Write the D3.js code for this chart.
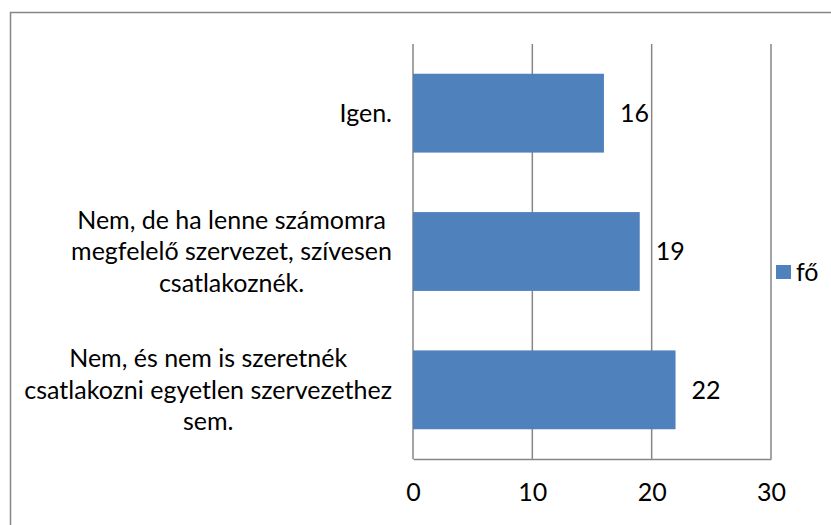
<!DOCTYPE html>
<html>
<head>
<meta charset="utf-8">
<script src="https://cdn.jsdelivr.net/npm/d3@7"></script>
<style>
  body { margin: 0; background: #fff; }
  svg text { font-family: Lato, "Open Sans", sans-serif; fill: #000; }
</style>
</head>
<body>
<svg id="chart"></svg>
<script>
let categories = [
    ['Igen.'],
    ['Nem, de ha lenne számomra', 'megfelelő szervezet, szívesen', 'csatlakoznék.'],
    ['Nem, és nem is szeretnék', 'csatlakozni egyetlen szervezethez', 'sem.']
]
let values = [16, 19, 22]
let ticks = [0, 10, 20, 30]
let seriesName = 'fő'

let width = 831
let height = 525
let fontSize = 25
let gridColor = '#868686'
let barColor = '#4F81BD'

let svg = d3.select('#chart')
    .attr('width', width)
    .attr('height', height)

// outer chart border (right/bottom run off the picture)
svg.append('rect')
    .attr('x', 10.5)
    .attr('y', 12.5)
    .attr('width', 900)
    .attr('height', 600)
    .attr('fill', 'none')
    .attr('stroke', gridColor)
    .attr('stroke-width', 1.5)

let xScale = d3.scaleLinear()
    .domain([0, 30])
    .range([413, 771])

let yScale = d3.scaleBand()
    .domain(d3.range(categories.length))
    .range([44, 459])
    .paddingInner(0.43)
    .paddingOuter(0.215)

// gridlines
svg.selectAll('line.grid')
    .data(ticks)
    .enter()
    .append('line')
    .attr('class', 'grid')
    .attr('x1', (d) => xScale(d))
    .attr('x2', (d) => xScale(d))
    .attr('y1', 44)
    .attr('y2', 459)
    .attr('stroke', gridColor)
    .attr('stroke-width', 1.5)

// bottom axis
let xAxis = d3.axisBottom(xScale)
    .tickValues(ticks)
    .tickSize(0)
    .tickPadding(24)
let gx = svg.append('g')
    .attr('transform', 'translate(0, 459)')
    .call(xAxis)
gx.select('.domain').attr('stroke', gridColor).attr('stroke-width', 1.5)
gx.selectAll('text')
    .style('font-size', fontSize + 'px')
    .style('font-family', 'Lato, sans-serif')
    .attr('fill', '#000')

// bars
svg.selectAll('rect.bar')
    .data(values)
    .enter()
    .append('rect')
    .attr('class', 'bar')
    .attr('x', xScale(0))
    .attr('y', (d, i) => yScale(i))
    .attr('width', (d) => xScale(d) - xScale(0))
    .attr('height', yScale.bandwidth())
    .attr('fill', barColor)

// data labels
svg.selectAll('text.val')
    .data(values)
    .enter()
    .append('text')
    .attr('class', 'val')
    .attr('x', (d) => xScale(d) + 16)
    .attr('y', (d, i) => yScale(i) + yScale.bandwidth() / 2)
    .attr('dy', '0.35em')
    .style('font-size', fontSize + 'px')
    .text((d) => d)

// category labels: right-aligned block, centred lines
let lineHeight = 31.5
let labelRight = 392
categories.forEach((lines, i) => {
    let cy = yScale(i) + yScale.bandwidth() / 2
    let g = svg.append('g')
    let texts = lines.map((line, j) => {
        return g.append('text')
            .attr('y', cy + (j - (lines.length - 1) / 2) * lineHeight)
            .attr('dy', '0.35em')
            .attr('text-anchor', 'middle')
            .style('font-size', fontSize + 'px')
            .text(line)
    })
    let maxW = d3.max(texts, (t) => t.node().getComputedTextLength())
    texts.forEach((t) => t.attr('x', labelRight - maxW / 2))
})

// legend
svg.append('rect')
    .attr('x', 776)
    .attr('y', 265)
    .attr('width', 15)
    .attr('height', 14)
    .attr('fill', barColor)
svg.append('text')
    .attr('x', 796)
    .attr('y', 272)
    .attr('dy', '0.35em')
    .style('font-size', fontSize + 'px')
    .text(seriesName)
</script>
</body>
</html>
